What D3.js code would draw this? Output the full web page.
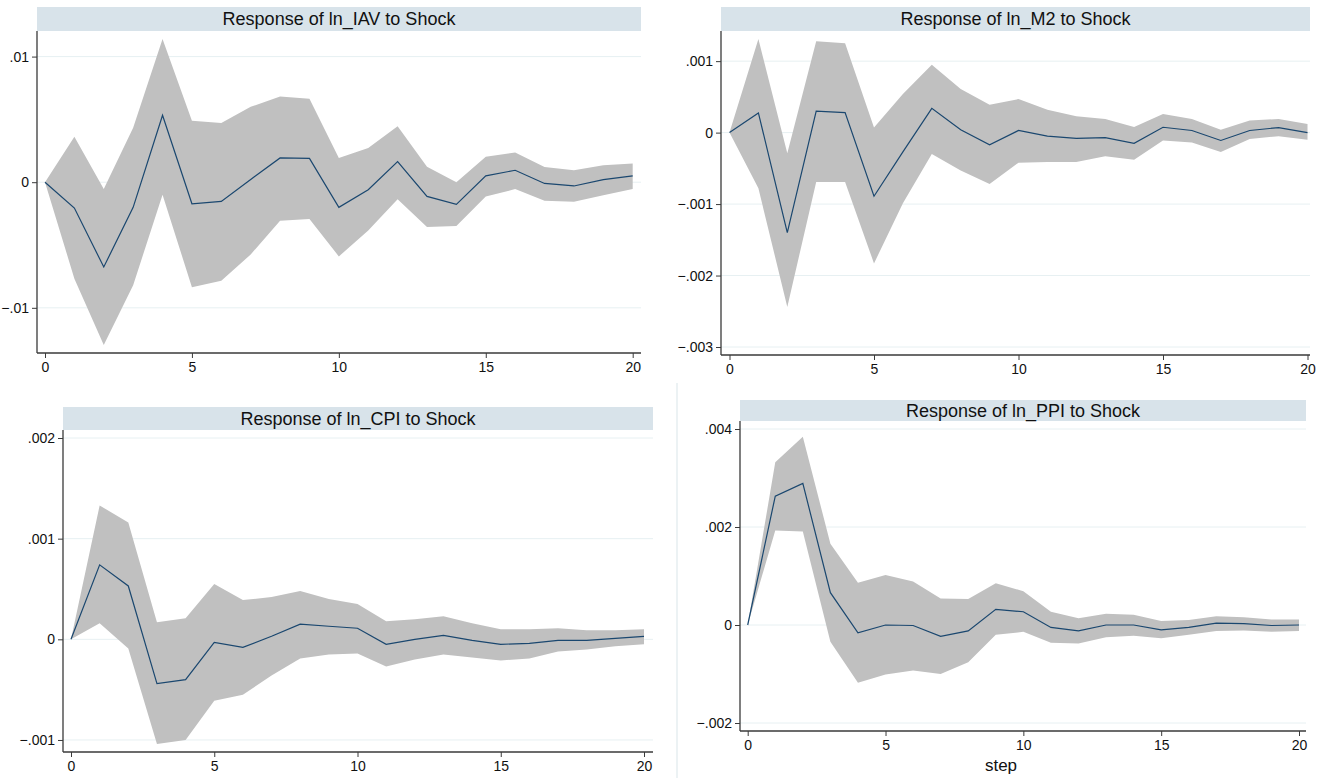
<!DOCTYPE html>
<html>
<head>
<meta charset="utf-8">
<script src="https://cdn.jsdelivr.net/npm/d3@7"></script>
<style>
  body { margin: 0; background: #fff; }
  svg { display: block; font-family: "Liberation Sans", Arial, sans-serif; }
</style>
</head>
<body>
<div id="chart"></div>
<script>
// impulse response data
var steps = d3.range(0, 21);

var iavIrf = [0, -0.00206, -0.00675, -0.0020, 0.00533, -0.00172, -0.00153, 0.00022, 0.00193, 0.0019, -0.0020,
  -0.0006, 0.00164, -0.00113, -0.00177, 0.0005, 0.00095, -0.0001, -0.0003, 0.0002, 0.0005];
var iavHi = [0, 0.00361, -0.00055, 0.00433, 0.0114, 0.0049, 0.00472, 0.006, 0.00683, 0.00665, 0.00193,
  0.00272, 0.00446, 0.00124, 0, 0.00203, 0.00237, 0.00121, 0.00095, 0.00135, 0.00148];
var iavLo = [0, -0.00768, -0.01296, -0.0082, -0.001, -0.00836, -0.00784, -0.00575, -0.00306, -0.00293, -0.00591,
  -0.00385, -0.00135, -0.00356, -0.00348, -0.00113, -0.00055, -0.00148, -0.00156, -0.00103, -0.00055];

var m2Irf = [0, 0.000276, -0.0014, 0.0003, 0.00028, -0.00089, -0.00027, 0.00034, 0.00004, -0.00017, 0.00003,
  -0.00005, -0.00008, -0.00007, -0.00015, 0.000075, 0.00003, -0.00011, 0.00003, 0.00007, 0];
var m2Hi = [0, 0.00131, -0.00029, 0.00128, 0.00125, 0.00007, 0.00054, 0.00095, 0.00061, 0.00039, 0.00047,
  0.00032, 0.00023, 0.00019, 0.00008, 0.00026, 0.00019, 0.00004, 0.00017, 0.00019, 0.00012];
var m2Lo = [0, -0.00078, -0.00244, -0.00069, -0.00069, -0.00183, -0.00099, -0.0003, -0.00053, -0.00072, -0.00042,
  -0.00041, -0.00041, -0.00033, -0.00038, -0.00011, -0.00014, -0.00027, -0.00009, -0.00005, -0.0001];

var cpiIrf = [0, 0.00074, 0.00053, -0.00044, -0.0004, -0.00003, -0.00008, 0.00003, 0.00015, 0.00013, 0.00011,
  -0.00005, 0, 0.00004, -0.00001, -0.00005, -0.00004, -0.00001, -0.00001, 0.00001, 0.00003];
var cpiHi = [0, 0.00133, 0.00116, 0.00017, 0.00021, 0.00055, 0.00039, 0.00042, 0.00048, 0.0004, 0.00035,
  0.00018, 0.0002, 0.00023, 0.00016, 0.0001, 0.0001, 0.00011, 0.00009, 0.00009, 0.0001];
var cpiLo = [0, 0.00016, -0.00009, -0.00104, -0.001, -0.00061, -0.00055, -0.00036, -0.00019, -0.00015, -0.00014,
  -0.00027, -0.0002, -0.00015, -0.00018, -0.00021, -0.00019, -0.00012, -0.0001, -0.00007, -0.00005];

var ppiIrf = [0, 0.00263, 0.00289, 0.00066, -0.00016, 0, -0.00001, -0.00023, -0.00012, 0.00032, 0.00027,
  -0.00005, -0.00012, 0, 0, -0.0001, -0.00005, 0.00004, 0.00003, -0.00001, 0];
var ppiHi = [0, 0.00332, 0.00384, 0.00166, 0.00086, 0.00102, 0.00089, 0.00054, 0.00053, 0.00085, 0.00069,
  0.00027, 0.00014, 0.00023, 0.00021, 0.00008, 0.0001, 0.00018, 0.00016, 0.00011, 0.00011];
var ppiLo = [0, 0.00193, 0.00191, -0.00034, -0.00118, -0.00101, -0.00093, -0.001, -0.00076, -0.0002, -0.00014,
  -0.00036, -0.00038, -0.00025, -0.00022, -0.00027, -0.0002, -0.00012, -0.00011, -0.00014, -0.00012];

var xTicks = [0, 5, 10, 15, 20];
var iavTicks = [-0.01, 0, 0.01];
var m2Ticks = [-0.003, -0.002, -0.001, 0, 0.001];
var cpiTicks = [-0.001, 0, 0.001, 0.002];
var ppiTicks = [-0.002, 0, 0.002, 0.004];

var width = 1319;
var height = 778;

var bandColor = '#c0c0c0';
var lineColor = '#1a476f';
var gridColor = '#e7f0f2';
var titleBg = '#d8e3ea';
var axisColor = '#3a3a3a';

// panel boxes: axis extents (x0..x1, y0..y1), title bar top, x range of steps
var panels = [
  { title: 'Response of ln_IAV to Shock', irf: iavIrf, lo: iavLo, hi: iavHi, ticks: iavTicks,
    x0: 37, x1: 641, tTop: 7, y0: 31, y1: 353, xr: [45, 632.7] },
  { title: 'Response of ln_M2 to Shock', irf: m2Irf, lo: m2Lo, hi: m2Hi, ticks: m2Ticks,
    x0: 721, x1: 1310, tTop: 7, y0: 31, y1: 355, xr: [729.5, 1307.5] },
  { title: 'Response of ln_CPI to Shock', irf: cpiIrf, lo: cpiLo, hi: cpiHi, ticks: cpiTicks,
    x0: 63, x1: 653, tTop: 407, y0: 430, y1: 752, xr: [71, 644] },
  { title: 'Response of ln_PPI to Shock', irf: ppiIrf, lo: ppiLo, hi: ppiHi, ticks: ppiTicks,
    x0: 740, x1: 1306, tTop: 400, y0: 421, y1: 731, xr: [747.7, 1299], xTitle: 'step' }
];

var svg = d3.select('#chart').append('svg')
  .attr('width', width)
  .attr('height', height);

// light separator next to the bottom-right graph
svg.append('line')
  .attr('x1', 677).attr('x2', 677)
  .attr('y1', 383).attr('y2', height)
  .attr('stroke', '#e6eef1')
  .attr('stroke-width', 1.5);

panels.forEach(function (p) {
  var g = svg.append('g');

  var lo = d3.min([d3.min(p.lo), d3.min(p.ticks)]);
  var hi = d3.max([d3.max(p.hi), d3.max(p.ticks)]);

  var x = d3.scaleLinear().domain([0, 20]).range(p.xr);
  var y = d3.scaleLinear().domain([lo, hi]).range([p.y1 - 8, p.y0 + 8]);

  /* title bar */
  g.append('rect')
    .attr('x', p.x0)
    .attr('y', p.tTop)
    .attr('width', p.x1 - p.x0)
    .attr('height', p.y0 - p.tTop)
    .attr('fill', titleBg);
  g.append('text')
    .attr('x', (p.x0 + p.x1) / 2)
    .attr('y', (p.tTop + p.y0) / 2)
    .attr('dy', '0.36em')
    .attr('text-anchor', 'middle')
    .attr('font-size', 18)
    .attr('fill', '#111')
    .text(p.title);

  /* grid */
  g.append('g')
    .selectAll('line')
    .data(p.ticks)
    .enter().append('line')
    .attr('x1', p.x0).attr('x2', p.x1)
    .attr('y1', d => y(d)).attr('y2', d => y(d))
    .attr('stroke', gridColor)
    .attr('stroke-width', 1);

  /* confidence band */
  var area = d3.area()
    .x((d, i) => x(steps[i]))
    .y0((d, i) => y(p.lo[i]))
    .y1((d, i) => y(p.hi[i]));
  g.append('path')
    .datum(p.irf)
    .attr('d', area)
    .attr('fill', bandColor);

  /* irf line */
  var line = d3.line()
    .x((d, i) => x(steps[i]))
    .y(d => y(d));
  g.append('path')
    .datum(p.irf)
    .attr('d', line)
    .attr('fill', 'none')
    .attr('stroke', lineColor)
    .attr('stroke-width', 1.2);

  /* axes */
  var fmt = function (d) {
    if (d === 0) return '0';
    return d3.format('')(+d.toPrecision(4)).replace('0.', '.');
  };
  var yAxis = d3.axisLeft(y).tickValues(p.ticks).tickSize(5).tickPadding(3).tickFormat(fmt);
  var yg = g.append('g')
    .attr('transform', `translate(${p.x0},0)`)
    .call(yAxis);
  yg.select('.domain').attr('d', `M0,${p.y0}V${p.y1}`);

  var xAxis = d3.axisBottom(x).tickValues(xTicks).tickSize(5).tickPadding(4);
  var xg = g.append('g')
    .attr('transform', `translate(0,${p.y1})`)
    .call(xAxis);
  xg.select('.domain').attr('d', `M${p.x0},0H${p.x1}`);

  g.selectAll('.domain').attr('stroke', axisColor).attr('stroke-width', 1.3);
  g.selectAll('.tick line').attr('stroke', axisColor);
  g.selectAll('.tick text')
    .attr('font-family', '"Liberation Sans", Arial, sans-serif')
    .attr('font-size', 14)
    .attr('fill', '#111');

  if (p.xTitle) {
    g.append('text')
      .attr('x', 1001)
      .attr('y', p.y1 + 40)
      .attr('text-anchor', 'middle')
      .attr('font-size', 17)
      .attr('fill', '#111')
      .text(p.xTitle);
  }
});
</script>
</body>
</html>
